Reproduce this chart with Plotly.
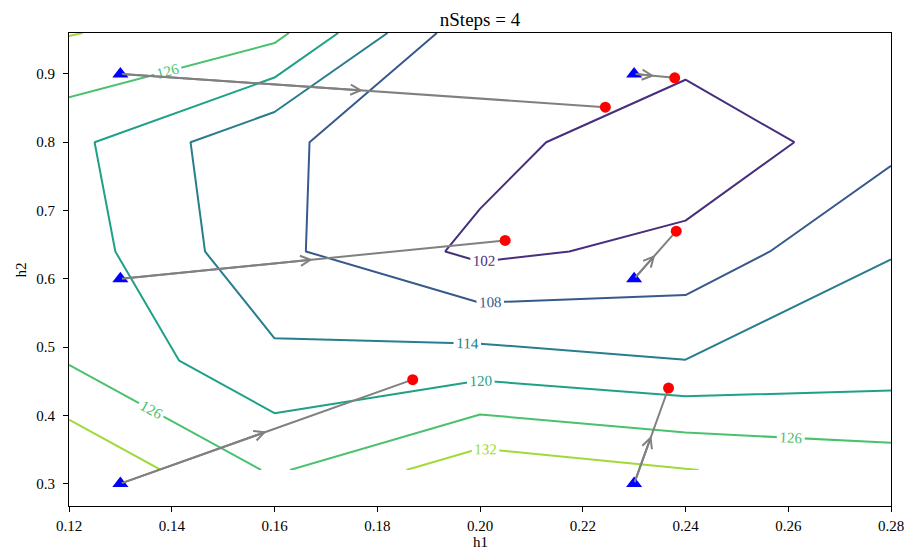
import plotly.graph_objects as go

# ---- data ----
h1_grid = [0.12, 0.16, 0.20, 0.24, 0.28]
h2_grid = [0.32, 0.48, 0.64, 0.80, 0.96]
objective = [
    [137.5, 125.2, 135.8, 132.2, 129.1],
    [125.55, 115.2, 116.5, 114.1, 116.6],
    [123.1, 109.35, 100.5, 103.95, 113.8],
    [121.6, 108.75, 104.35, 97.05, 106.4],
    [132.3, 127.75, 102.75, 105.7, 106.0],
]
levels = [102, 108, 114, 120, 126, 132]
level_colors = ["#472f7d", "#38598c", "#287d8e", "#1fa187", "#4ac16d", "#a0da39"]

start_h1 = [0.13, 0.23, 0.13, 0.23, 0.13, 0.23]
start_h2 = [0.9, 0.9, 0.6, 0.6, 0.3, 0.3]
end_h1 = [0.2244, 0.2379, 0.2049, 0.2382, 0.1869, 0.2367]
end_h2 = [0.8514, 0.8944, 0.6562, 0.6698, 0.4523, 0.4400]

title_text = "nSteps = 4"
x_label = "h1"
y_label = "h2"
FONT = "Liberation Serif"

fig = go.Figure()

for lev, col in zip(levels, level_colors):
    fig.add_trace(go.Contour(
        x=h1_grid, y=h2_grid, z=objective,
        autocontour=False,
        contours=dict(start=lev, end=lev, size=6, coloring="lines",
                      showlabels=True,
                      labelfont=dict(family=FONT, size=15, color=col)),
        colorscale=[[0, col], [1, col]],
        line=dict(width=2, smoothing=0),
        showscale=False, hoverinfo="skip",
    ))

# arrow shafts
lx, ly = [], []
for a, b, c, d in zip(start_h1, start_h2, end_h1, end_h2):
    lx += [a, c, None]
    ly += [b, d, None]
fig.add_trace(go.Scatter(x=lx, y=ly, mode="lines",
                         line=dict(color="#808080", width=2),
                         showlegend=False, hoverinfo="skip"))

fig.add_trace(go.Scatter(x=start_h1, y=start_h2, mode="markers",
                         marker=dict(symbol="triangle-up", size=14, color="blue"),
                         showlegend=False))
fig.add_trace(go.Scatter(x=end_h1, y=end_h2, mode="markers",
                         marker=dict(symbol="circle", size=11, color="red"),
                         showlegend=False))

# chevron heads at the midpoint of each path
for a, b, c, d in zip(start_h1, start_h2, end_h1, end_h2):
    fig.add_annotation(x=(a + c) / 2, y=(b + d) / 2, ax=a, ay=b,
                       xref="x", yref="y", axref="x", ayref="y",
                       text="", showarrow=True, arrowhead=5, arrowsize=1,
                       arrowwidth=2, arrowcolor="#808080", standoff=0)

# axis titles as annotations (precise placement)
fig.add_annotation(text=x_label, xref="paper", yref="paper", x=0.5, y=-0.0951,
                   xanchor="center", yanchor="bottom", showarrow=False, borderpad=0,
                   font=dict(family=FONT, size=15, color="black"))
fig.add_annotation(text=y_label, xref="paper", yref="paper", x=-0.0584, y=0.5,
                   xanchor="center", yanchor="middle", showarrow=False, textangle=-90,
                   borderpad=0, font=dict(family=FONT, size=15, color="black"))

axis_common = dict(showgrid=False, zeroline=False, showline=True, linecolor="black",
                   linewidth=1, mirror=True, ticks="outside", ticklen=5, tickwidth=1,
                   tickcolor="black", automargin=False,
                   tickfont=dict(family=FONT, size=15, color="black"))

fig.update_layout(
    width=905, height=551,
    margin=dict(l=69, r=14, t=33, b=45, pad=0, autoexpand=False),
    plot_bgcolor="white", paper_bgcolor="white",
    showlegend=False,
    title=dict(text=title_text, x=0.5, xref="paper", y=1, yref="paper",
               yanchor="bottom", xanchor="center", pad=dict(b=7),
               font=dict(family=FONT, size=19, color="black")),
    xaxis=dict(range=[0.12, 0.28], tick0=0.12, dtick=0.02, tickformat=".2f",
               ticklabelstandoff=1, **axis_common),
    yaxis=dict(range=[0.2672, 0.96], tick0=0.3, dtick=0.1, tickformat=".1f",
               ticklabelstandoff=5, **axis_common),
)

fig.write_html("out.html")
